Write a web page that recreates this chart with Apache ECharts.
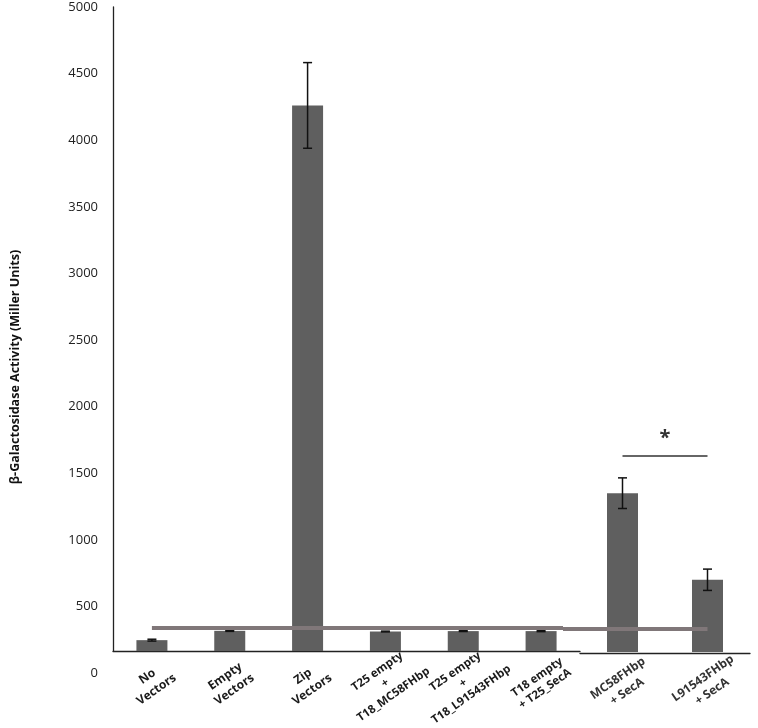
<!DOCTYPE html>
<html><head><meta charset="utf-8">
<script src="https://cdn.jsdelivr.net/npm/echarts@6/dist/echarts.min.js"></script>
<style>html,body{margin:0;padding:0;background:#fff}#c{width:758px;height:728px}</style>
</head><body><div id="c"></div>
<script>
// ---- data ----
const categoriesLeft = ['No\nVectors', 'Empty\nVectors', 'Zip\nVectors', 'T25 empty\n+\nT18_MC58FHbp', 'T25 empty\n+\nT18_L91543FHbp', 'T18 empty\n+ T25_SecA'];
const valuesLeft = [240, 310, 4260, 305, 308, 308];
const errorsLeft = [7, 4, 322, 3, 3, 4];
const categoriesRight = ['MC58FHbp\n+ SecA', 'L91543FHbp\n+ SecA'];
const valuesRight = [1350, 700];
const errorsRight = [115, 80];
const yAxisMin = 0, yAxisMax = 5000, yAxisInterval = 500;
const baselineValue = 158;        // value where the drawn x axis sits
const referenceLevel = 330;       // grey horizontal reference line
const significanceLevel = 1630;   // bracket between the two SecA bars
const significanceMark = '*';
const yAxisTitle = 'β-Galactosidase Activity (Miller Units)';

// ---- layout ----
const FONT = 'Open Sans';
const PLOT_TOP = 7, ZERO_Y = 673, AXIS_X = 113;
const pxPerUnit = (ZERO_Y - PLOT_TOP) / (yAxisMax - yAxisMin);
const dataHeight = (yAxisMax - baselineValue) * pxPerUnit;
const G1_LEFT = AXIS_X, G1_W = 467, G2_LEFT = G1_LEFT + G1_W, G2_W = 170;
const BAR_COLOR = '#5f5f5f', REF_COLOR = '#807779';

function errSeries(xIdx, cats, vals, errs) {
  return {
    type: 'custom', xAxisIndex: xIdx, yAxisIndex: xIdx, z: 5, silent: true,
    data: vals.map((v, i) => [cats[i], v - errs[i], v + errs[i]]),
    renderItem: (params, api) => {
      const lo = api.coord([api.value(0), api.value(1)]);
      const hi = api.coord([api.value(0), api.value(2)]);
      const w = 4.5;
      const st = { stroke: '#111', lineWidth: 1.5 };
      return { type: 'group', children: [
        { type: 'line', shape: { x1: hi[0], y1: hi[1], x2: lo[0], y2: lo[1] }, style: st },
        { type: 'line', shape: { x1: hi[0] - w, y1: hi[1], x2: hi[0] + w, y2: hi[1] }, style: st },
        { type: 'line', shape: { x1: lo[0] - w, y1: lo[1], x2: lo[0] + w, y2: lo[1] }, style: st }
      ]};
    }
  };
}

function catLabel(small, color) {
  return {
    interval: 0, rotate: 35, align: 'center', verticalAlign: 'middle', margin: 32,
    formatter: (v, i) => {
      const key = (typeof small === 'function' ? small(i) : small) ? 's' : 'b';
      return v.split('\n').map(l => '{' + key + '|' + l + '}').join('\n');
    },
    rich: {
      b: { fontFamily: FONT, fontWeight: 'bold', fontSize: 12, lineHeight: 16, color: color, align: 'center' },
      s: { fontFamily: FONT, fontWeight: 'bold', fontSize: 11.5, lineHeight: 14, color: color, align: 'center' }
    }
  };
}

const valueAxisData = (idx, showLine) => ({
  gridIndex: idx, type: 'value', min: baselineValue, max: yAxisMax, startValue: baselineValue,
  axisLine: { show: showLine, lineStyle: { color: '#222', width: 1.3 } },
  axisTick: { show: false }, axisLabel: { show: false }, splitLine: { show: false }
});

const option = {
  animation: false,
  backgroundColor: '#fff',
  grid: [
    { left: AXIS_X, top: PLOT_TOP, width: G1_W + G2_W, height: ZERO_Y - PLOT_TOP },
    { left: G1_LEFT, top: PLOT_TOP, width: G1_W, height: dataHeight },
    { left: G2_LEFT, top: PLOT_TOP, width: G2_W, height: dataHeight }
  ],
  xAxis: [
    { gridIndex: 0, type: 'category', data: [''], show: false },
    { gridIndex: 1, type: 'category', data: categoriesLeft,
      axisLine: { lineStyle: { color: '#222', width: 1.3 } }, axisTick: { show: false },
      axisLabel: catLabel(i => i >= 3, '#1a1a1a') },
    { gridIndex: 2, type: 'category', data: categoriesRight, offset: 1,
      axisLine: { lineStyle: { color: '#222', width: 1.3 } }, axisTick: { show: false },
      axisLabel: catLabel(false, '#333') }
  ],
  yAxis: [
    { gridIndex: 0, type: 'value', min: yAxisMin, max: yAxisMax, interval: yAxisInterval,
      axisLine: { show: false }, axisTick: { show: false }, splitLine: { show: false },
      axisLabel: { fontFamily: FONT, fontSize: 13, color: '#222', margin: 15, formatter: v => String(v) } },
    valueAxisData(1, true),
    valueAxisData(2, false)
  ],
  graphic: [{
    type: 'text', x: 15, y: 367, rotation: Math.PI / 2,
    style: { text: yAxisTitle, font: 'bold 12.5px "' + FONT + '"', fill: '#111', textAlign: 'center', textVerticalAlign: 'middle' }
  }],
  series: [
    { type: 'bar', xAxisIndex: 1, yAxisIndex: 1, data: valuesLeft, barWidth: 31, clip: true,
      itemStyle: { color: BAR_COLOR }, silent: true, z: 2,
      markLine: { silent: true, symbol: ['none', 'none'], z: 8, label: { show: false },
        lineStyle: { color: REF_COLOR, width: 4, type: 'solid' },
        data: [[ { coord: [categoriesLeft[0], referenceLevel] },
                 { coord: [categoriesLeft[categoriesLeft.length - 1], referenceLevel], x: G1_LEFT + G1_W - 17 } ]] } },
    errSeries(1, categoriesLeft, valuesLeft, errorsLeft),
    { type: 'bar', xAxisIndex: 2, yAxisIndex: 2, data: valuesRight, barWidth: 31, clip: true,
      itemStyle: { color: BAR_COLOR }, silent: true, z: 2,
      markLine: { silent: true, symbol: ['none', 'none'], z: 8,
        data: [
          [ { coord: [categoriesRight[0], referenceLevel], x: G2_LEFT - 17,
              lineStyle: { color: REF_COLOR, width: 4, type: 'solid' }, label: { show: false } },
            { coord: [categoriesRight[1], referenceLevel] } ],
          [ { coord: [categoriesRight[0], significanceLevel],
              lineStyle: { color: '#333', width: 1.5, type: 'solid' },
              label: { show: true, position: 'middle', formatter: significanceMark, distance: 8,
                       fontFamily: FONT, fontWeight: 'bold', fontSize: 20, color: '#333' } },
            { coord: [categoriesRight[1], significanceLevel] } ]
        ] } },
    errSeries(2, categoriesRight, valuesRight, errorsRight)
  ]
};
echarts.init(document.getElementById('c'), null, { renderer: 'canvas' }).setOption(option);
</script></body></html>
